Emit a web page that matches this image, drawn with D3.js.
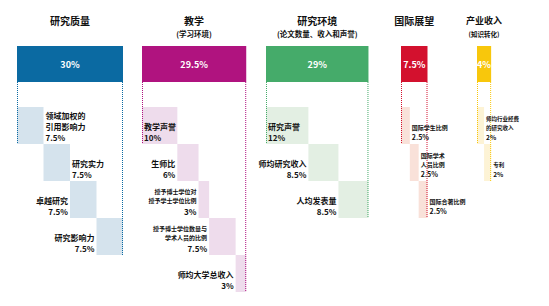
<html>
<head>
<meta charset="utf-8">
<script src="https://d3js.org/d3.v7.min.js"></script>
<style>
  body { margin: 0; background: #fff; }
  svg text { font-family: "Noto Sans CJK SC", "Noto Sans", sans-serif; font-weight: 700; }
</style>
</head>
<body>
<script>
// pillars
var pillars = ["研究质量", "教学", "研究环境", "国际展望", "产业收入"];
var pillarSubs = ["", "(学习环境)", "(论文数量、收入和声誉)", "", "(知识转化)"];
var pillarWeights = [30, 29.5, 29, 7.5, 4];

// metrics inside each pillar
var metricNames = [
  ["领域加权的\n引用影响力", "研究实力", "卓越研究", "研究影响力"],
  ["教学声誉", "生师比", "授予博士学位对\n授予学士学位比例", "授予博士学位数量与\n学术人员的比例", "师均大学总收入"],
  ["研究声誉", "师均研究收入", "人均发表量"],
  ["国际学生比例", "国际学术\n人员比例", "国际合著比例"],
  ["师均行业经费\n的研究收入", "专利"]
];
var metricWeights = [
  [7.5, 7.5, 7.5, 7.5],
  [10, 6, 3, 7.5, 3],
  [12, 8.5, 8.5],
  [2.5, 2.5, 2.5],
  [2, 2]
];

// look
var mainColors = ["#0b6aa2", "#b0137f", "#45ab6a", "#d3112e", "#f8c70c"];
var lightColors = ["#d5e3ed", "#eedcec", "#e3efe3", "#f9e1d9", "#fdf3d5"];
var colLeft = [17, 142, 266, 401, 477];
var labelSide = [
  ["right", "right", "left", "left"],
  ["inside", "left", "left", "left", "left"],
  ["inside", "left", "left"],
  ["right", "right", "right"],
  ["right", "right"]
];
var nameSize = [8, 8, 8, 6, 5.5];
var pctSize = [8, 8, 8, 7, 6.5];

var width = 549, height = 306;

var svg = d3.select("body").append("svg")
  .attr("width", width)
  .attr("height", height);

var w = d3.scaleLinear().domain([0, 30]).range([0, 106]);
var row = d3.scaleBand().domain(d3.range(5)).range([107, 107 + 5 * 37]);

var mainTop = 46, mainH = 36;

pillars.forEach(function(p, c) {
  var g = svg.append("g");
  var x0 = colLeft[c];
  var pw = w(pillarWeights[c]);
  var cx = x0 + pw / 2;

  g.append("text")
    .attr("x", cx).attr("y", 20)
    .attr("text-anchor", "middle").attr("dominant-baseline", "central")
    .attr("font-size", c == 4 ? 9 : 10)
    .attr("fill", "#111")
    .text(p);
  if (pillarSubs[c]) {
    g.append("text")
      .attr("x", cx).attr("y", 33.5)
      .attr("text-anchor", "middle").attr("dominant-baseline", "central")
      .attr("font-size", c == 4 ? 6.5 : 7.5)
      .attr("fill", "#111")
      .text(pillarSubs[c]);
  }

  g.append("rect")
    .attr("x", x0).attr("y", mainTop)
    .attr("width", pw).attr("height", mainH)
    .attr("fill", mainColors[c]);
  g.append("text")
    .attr("x", cx).attr("y", mainTop + mainH / 2)
    .attr("text-anchor", "middle").attr("dominant-baseline", "central")
    .attr("font-size", 9).attr("fill", "#fff")
    .text(pillarWeights[c] + "%");

  // sub boxes
  var cum = 0;
  var subs = metricWeights[c].map(function(v, i) {
    var s = { name: metricNames[c][i], v: v, i: i, x: x0 + w(cum), w: w(v) };
    cum += v;
    return s;
  });

  g.selectAll("rect.sub")
    .data(subs)
    .enter()
    .append("rect")
    .attr("class", "sub")
    .attr("x", function(d) { return d.x; })
    .attr("y", function(d) { return row(d.i); })
    .attr("width", function(d) { return d.w; })
    .attr("height", row.bandwidth())
    .attr("fill", lightColors[c]);

  // dotted guides
  var last = subs.length - 1;
  g.append("line")
    .attr("x1", x0 + 0.5).attr("x2", x0 + 0.5)
    .attr("y1", mainTop + mainH).attr("y2", row(0) + row.bandwidth())
    .attr("stroke", mainColors[c]).attr("stroke-width", 1)
    .attr("stroke-dasharray", "1,1");
  g.append("line")
    .attr("x1", x0 + pw - 0.5).attr("x2", x0 + pw - 0.5)
    .attr("y1", mainTop + mainH).attr("y2", row(last) + row.bandwidth())
    .attr("stroke", mainColors[c]).attr("stroke-width", 1)
    .attr("stroke-dasharray", "1,1");

  // labels
  subs.forEach(function(d) {
    var side = labelSide[c][d.i];
    var tx, anchor = "start";
    if (side == "inside") tx = d.x + 2;
    else if (side == "right") tx = d.x + d.w + 2;
    else { tx = d.x - 2; anchor = "end"; }

    var lines = d.name.split("\n");
    var small = d.name.replace("\n", "").length >= 14;
    var fs = small ? 6 : nameSize[c];
    var lh = fs + 3;
    var bottom = row(d.i) + row.bandwidth() - 7;
    var t = g.append("text")
      .attr("text-anchor", anchor)
      .attr("dominant-baseline", "central")
      .attr("fill", "#111");
    lines.forEach(function(l, k) {
      t.append("tspan")
        .attr("x", tx)
        .attr("y", bottom - pctSize[c] - 3 - (lines.length - 1 - k) * lh)
        .attr("font-size", fs)
        .text(l);
    });
    t.append("tspan")
      .attr("x", tx)
      .attr("y", bottom)
      .attr("font-size", pctSize[c])
      .text(d.v + "%");
  });
});
</script>
</body>
</html>
